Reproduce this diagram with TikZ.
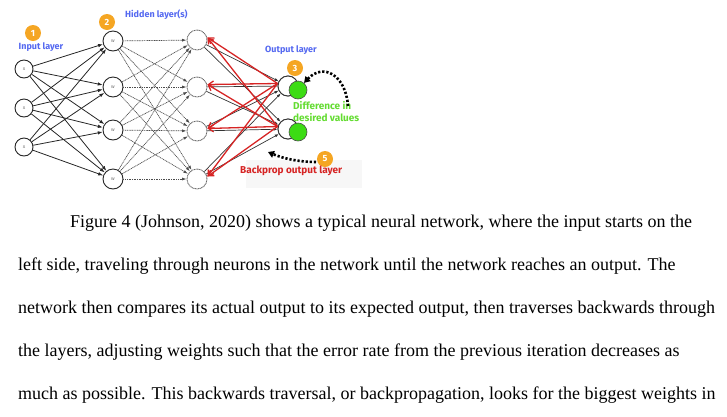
\documentclass[tikz,border=0pt]{standalone}
\usepackage{fontspec}
\setmainfont{Liberation Serif}
\newfontfamily\lblfont{Fira Sans}
\usetikzlibrary{arrows.meta}
\definecolor{lblblue}{RGB}{84,104,240}
\definecolor{lblgreen}{RGB}{100,220,50}
\definecolor{neurongreen}{RGB}{60,220,20}
\definecolor{bpred}{RGB}{214,36,36}
\definecolor{badgeorange}{RGB}{245,166,35}
\begin{document}
\begin{tikzpicture}[x=1pt,y=-1pt,
  neuron/.style={circle,draw=black!85,line width=0.9pt,fill=white,minimum size=20pt,inner sep=0pt,
    font=\lblfont\fontsize{5}{5}\selectfont,text=black!55},
  inneuron/.style={neuron,minimum size=18pt},
  hidneuron/.style={neuron,draw=black!60,dash pattern=on 1pt off 0.6pt},
  outneuron/.style={neuron,draw=black!80},
  greenneuron/.style={circle,draw=black!70,line width=0.6pt,fill=neurongreen,minimum size=18pt,inner sep=0pt},
  badge/.style={circle,fill=badgeorange,minimum size=16pt,inner sep=0pt,text=white,
    font=\lblfont\bfseries\fontsize{9}{9}\selectfont},
  layerlabel/.style={text=lblblue,inner sep=0pt,font=\lblfont\bfseries\fontsize{9}{9}\selectfont},
  greenlabel/.style={text=lblgreen,inner sep=0pt,align=left,font=\lblfont\bfseries\fontsize{10}{12}\selectfont},
  redlabel/.style={text=bpred,inner sep=0pt,font=\lblfont\bfseries\fontsize{10}{10}\selectfont},
  fwd/.style={black!85,line width=0.8pt,-{Latex[length=5pt,width=3.5pt]}},
  hid/.style={black!70,line width=0.7pt,dash pattern=on 1pt off 0.7pt,-{Latex[length=4.5pt,width=3pt]}},
  outfwd/.style={black!80,line width=0.7pt,-{Latex[length=4pt,width=3pt]}},
  back/.style={bpred,line width=1.3pt,-{Straight Barb[length=5pt,width=7pt]}},
  bigdots/.style={black,line width=2.6pt,dash pattern=on 2.2pt off 1.9pt,-{Triangle[length=6pt,width=7pt]}},
  para/.style={anchor=base west,inner sep=0pt,font=\fontsize{18}{18}\selectfont}]
\useasboundingbox (0,0) rectangle (727,416);

% faint band behind the backprop caption
\fill[black!3] (246,160) rectangle (362,188);

% neurons
\node[inneuron] (i1) at (24,69) {x};
\node[inneuron] (i2) at (24,108) {x};
\node[inneuron] (i3) at (24,147) {x};

\node[neuron] (a1) at (113,41) {w};
\node[neuron] (a2) at (113,87) {w};
\node[neuron] (a3) at (113,130) {w};
\node[neuron] (a4) at (113,179) {w};

\node[hidneuron] (b1) at (197,40) {};
\node[hidneuron] (b2) at (197,87) {};
\node[hidneuron] (b3) at (197,131) {};
\node[hidneuron] (b4) at (197,179) {};

\node[outneuron] (o1) at (288,86) {};
\node[outneuron] (o2) at (288,129) {};

% input -> first hidden layer
\foreach \i in {1,2,3}
  \foreach \j in {1,2,3,4}
    \draw[fwd] (i\i) -- (a\j);

% first -> second hidden layer
\foreach \i in {1,2,3,4}
  \foreach \j in {1,2,3,4}
    \draw[hid] (a\i) -- (b\j);

% second hidden layer -> output
\foreach \i in {1,2,3,4}
  \foreach \j in {1,2}
    \draw[outfwd] (b\i) -- (o\j);

% error sent back from the outputs
\foreach \j in {1,2}
  \foreach \i in {1,2,3,4}
    \draw[back] ([yshift=2.5pt]o\j.west) -- ([yshift=2.5pt]b\i.east);

% redraw output circles above the lines, then the green ones
\node[outneuron] at (o1) {};
\node[outneuron] at (o2) {};
\node[greenneuron] (g1) at (298,90) {};
\node[greenneuron] (g2) at (298,132) {};

% badges
\node[badge] (n1) at (33,33) {1};
\node[badge] (n2) at (107,22) {2};
\node[badge] (n3) at (295,68) {3};
\node[badge] (n5) at (325,159) {5};

% labels
\node[layerlabel] (lin) at (41,47) {Input layer};
\node[layerlabel,anchor=west] (lhid) at (125,15) {Hidden layer(s)};
\node[layerlabel] (lout) at (291,50) {Output layer};
\node[greenlabel,anchor=north west] (ldiff) at (293,101) {Difference in\\desired values};
\node[redlabel,anchor=west] (lbp) at (240,171) {Backprop output layer};

% dotted pointers
\coordinate (c1) at (348,106);
\coordinate (c2) at (316,162);
\coordinate (c3) at (268,152);
\draw[bigdots] (c1) .. controls (346,76) and (324,62) .. (g1.50);
\draw[bigdots] (c2) .. controls (298,162) and (282,158) .. (c3);

% body text
\node[para] (t1) at (70,227) {Figure 4 (Johnson, 2020) shows a typical neural network, where the input starts on the};
\node[para] (t2) at (18,270) {left side, traveling through neurons in the network until the network reaches an output. The};
\node[para] (t3) at (18,313) {network then compares its actual output to its expected output, then traverses backwards through};
\node[para] (t4) at (18,356) {the layers, adjusting weights such that the error rate from the previous iteration decreases as};
\node[para] (t5) at (18,399) {much as possible. This backwards traversal, or backpropagation, looks for the biggest weights in};
\end{tikzpicture}
\end{document}
